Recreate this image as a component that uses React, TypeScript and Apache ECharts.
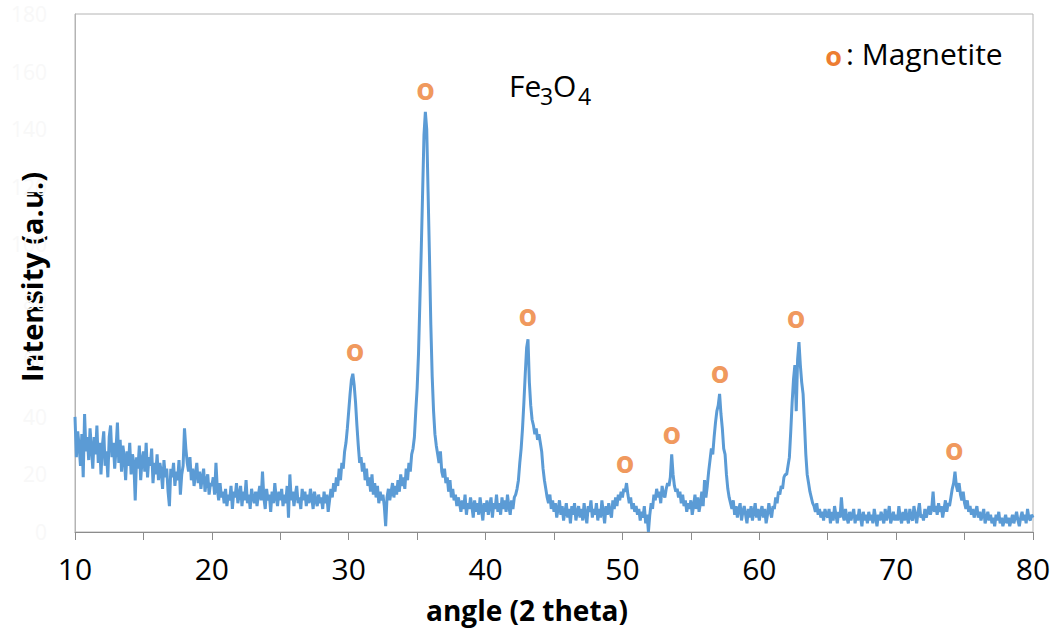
import React, { useEffect, useRef } from "react";
import * as echarts from "echarts";

// XRD pattern of Fe3O4, intensity (a.u.) sampled every 0.1 degree (2 theta)
const angleStart = 10;
const angleStep = 0.1;

const intensity10to20 = [
  40, 26, 35, 30, 23, 34, 19, 41, 28, 33,
  25, 36, 29, 22, 33, 27, 37, 24, 31, 20,
  30, 35, 23, 28, 19, 33, 37, 26, 31, 22,
  29, 38, 24, 32, 21, 30, 26, 18, 28, 23,
  31, 20, 27, 24, 11, 26, 22, 30, 18, 25,
  28, 21, 31, 19, 26, 23, 29, 17, 24, 20,
  27, 18, 24, 21, 15, 25, 19, 22, 14, 9,
  22, 19, 24, 16, 21, 18, 25, 13, 20, 23,
  36, 29, 24, 21, 26, 18, 22, 16, 20, 24,
  17, 21, 15, 19, 22, 14, 18, 20, 13, 17,
];
const intensity20to30 = [
  16, 19, 13, 24, 15, 11, 17, 12, 14, 10,
  15, 9, 13, 11, 16, 8, 14, 12, 17, 10,
  13, 16, 9, 14, 11, 18, 10, 13, 8, 15,
  12, 10, 14, 9, 13, 16, 11, 21, 12, 8,
  15, 11, 13, 7, 14, 10, 17, 12, 9, 14,
  11, 15, 9, 13, 10, 16, 5, 20, 11, 14,
  9, 13, 16, 10, 12, 8, 15, 11, 14, 9,
  13, 10, 15, 12, 8, 14, 11, 9, 13, 10,
  12, 8, 14, 10, 13, 7, 11, 15, 12, 17,
  14, 19, 16, 22, 18, 24, 22, 28, 31, 36,
];
const intensity30to40 = [
  42, 48, 53, 55, 51, 45, 37, 30, 24, 26,
  21, 24, 18, 22, 16, 19, 14, 20, 13, 17,
  12, 16, 10, 14, 11, 13, 9, 2, 12, 15,
  11, 14, 17, 12, 16, 13, 18, 14, 20, 16,
  19, 15, 22, 18, 24, 21, 27, 29, 33, 42,
  50, 62, 80, 98, 118, 138, 146, 140, 118, 96,
  72, 54, 42, 34, 30, 27, 24, 28, 21, 19,
  22, 17, 19, 14, 18, 12, 15, 11, 13, 9,
  12, 10, 7, 11, 8, 13, 6, 10, 8, 12,
  9, 5, 11, 7, 10, 6, 12, 8, 4, 10,
];
const intensity40to50 = [
  7, 11, 6, 9, 12, 5, 10, 8, 13, 7,
  10, 6, 12, 8, 11, 7, 13, 9, 6, 11,
  8, 12, 13, 15, 18, 24, 29, 36, 45, 55,
  64, 67, 52, 44, 39, 37, 34, 36, 32, 34,
  31, 28, 22, 18, 15, 12, 10, 13, 8, 11,
  7, 10, 5, 8, 11, 6, 9, 4, 7, 10,
  5, 8, 3, 9, 6, 10, 4, 7, 9, 5,
  8, 4, 10, 6, 3, 9, 7, 11, 5, 8,
  6, 10, 4, 8, 5, 11, 7, 3, 9, 6,
  10, 7, 5, 11, 8, 12, 9, 13, 11, 14,
];
const intensity50to60 = [
  12, 15, 14, 17, 13, 10, 12, 8, 10, 7,
  9, 6, 8, 4, 7, 5, 9, 3, 6, 0,
  6, 10, 8, 13, 11, 15, 12, 14, 10, 16,
  13, 12, 15, 17, 16, 19, 27, 20, 16, 14,
  15, 12, 14, 10, 13, 9, 11, 7, 10, 8,
  11, 6, 9, 13, 8, 12, 7, 10, 14, 9,
  18, 12, 16, 21, 25, 29, 27, 33, 38, 42,
  44, 48, 41, 36, 29, 27, 20, 15, 12, 10,
  8, 11, 6, 9, 5, 8, 10, 4, 7, 9,
  6, 3, 8, 5, 9, 4, 7, 10, 5, 8,
];
const intensity60to70 = [
  4, 7, 9, 5, 8, 3, 6, 10, 7, 5,
  9, 8, 12, 10, 14, 13, 16, 15, 19, 20,
  20, 23, 26, 35, 45, 53, 58, 42, 60, 66,
  58, 52, 48, 38, 27, 20, 17, 14, 12, 10,
  9, 7, 10, 6, 8, 5, 7, 4, 8, 6,
  5, 8, 3, 7, 4, 9, 6, 3, 7, 5,
  12, 6, 4, 8, 5, 3, 7, 4, 6, 8,
  3, 6, 4, 8, 5, 2, 7, 4, 6, 3,
  7, 4, 6, 3, 8, 5, 2, 6, 4, 7,
  5, 3, 8, 4, 6, 9, 3, 5, 7, 4,
];
const intensity70to80 = [
  6, 4, 9, 5, 3, 7, 4, 8, 5, 3,
  8, 5, 4, 9, 6, 3, 7, 10, 5, 6,
  4, 8, 5, 7, 9, 6, 8, 14, 7, 9,
  6, 10, 7, 9, 5, 8, 11, 7, 10, 9,
  12, 15, 17, 21, 16, 14, 17, 13, 11, 14,
  10, 8, 11, 7, 9, 6, 8, 5, 7, 9,
  5, 7, 4, 6, 8, 3, 5, 7, 4, 6,
  3, 5, 2, 6, 4, 7, 3, 5, 2, 4,
  6, 3, 5, 2, 4, 6, 3, 5, 7, 4,
  2, 5, 7, 4, 6, 3, 8, 5, 4, 6,
  5,
];

// Magnetite peak markers ("o")
const peakAngles = [30.46, 35.62, 43.08, 50.19, 53.6, 57.13, 62.68, 74.25];
const peakMarkHeights = [62.5, 152.9, 74.7, 23.3, 33.7, 54.9, 73.7, 27.8];

const xMin = 10;
const xMax = 80;
const yMin = 0;
const yMax = 180;
const yInterval = 20;
const xTickInterval = 5;

const FONT = "'Open Sans', 'Noto Sans', sans-serif";
const LINE_COLOR = "#5B9BD5";
const MARK_COLOR = "#ED7D31";

export default function App() {
  const ref = useRef<HTMLDivElement>(null);

  useEffect(() => {
    if (!ref.current) return;
    const chart = echarts.init(ref.current, undefined, { renderer: "svg" });

    const intensity = [
      ...intensity10to20,
      ...intensity20to30,
      ...intensity30to40,
      ...intensity40to50,
      ...intensity50to60,
      ...intensity60to70,
      ...intensity70to80,
    ];
    const lineData = intensity.map((v, i) => [
      Math.round((angleStart + i * angleStep) * 10) / 10,
      v,
    ]);
    const markData = peakAngles.map((a, i) => [a, peakMarkHeights[i]]);

    chart.setOption({
      animation: false,
      backgroundColor: "#ffffff",
      grid: {
        left: 75,
        right: 21,
        top: 14,
        bottom: 99,
        show: true,
        borderColor: "#b4b4b4",
        borderWidth: 1,
        containLabel: false,
      },
      xAxis: {
        type: "value",
        min: xMin,
        max: xMax,
        interval: xTickInterval,
        axisLine: { show: true, lineStyle: { color: "#8c8c8c", width: 1 } },
        axisTick: { show: true, length: 8, lineStyle: { color: "#8c8c8c" } },
        splitLine: { show: false },
        axisLabel: {
          color: "#000000",
          fontSize: 30,
          fontFamily: FONT,
          margin: 21,
          formatter: (v: number) => (v % 10 === 0 ? String(v) : ""),
        },
      },
      yAxis: {
        type: "value",
        min: yMin,
        max: yMax,
        interval: yInterval,
        axisLine: { show: true, lineStyle: { color: "#b4b4b4", width: 1 } },
        axisTick: { show: false },
        splitLine: { show: false },
        axisLabel: {
          color: "#f8f8f8",
          fontSize: 21,
          fontFamily: FONT,
          margin: 28,
        },
      },
      series: [
        {
          type: "line",
          data: lineData,
          showSymbol: false,
          symbol: "none",
          lineStyle: { color: LINE_COLOR, width: 3 },
          z: 2,
        },
        {
          type: "scatter",
          data: markData,
          symbolSize: 1,
          itemStyle: { color: "rgba(0,0,0,0)" },
          label: {
            show: true,
            position: "inside",
            formatter: "o",
            color: MARK_COLOR,
            fontSize: 30,
            fontWeight: "bold",
            fontFamily: FONT,
            offset: [0, -3],
          },
          z: 3,
        },
      ],
      graphic: [
        {
          type: "text",
          x: 527,
          y: 610,
          style: {
            text: "angle (2 theta)",
            fill: "#000",
            font: `bold 28px ${FONT}`,
            textAlign: "center",
            textVerticalAlign: "middle",
          },
        },
        {
          type: "text",
          x: 31,
          y: 277,
          rotation: Math.PI / 2,
          style: {
            text: "Intensity (a.u.)",
            fill: "#000",
            font: `bold 29px ${FONT}`,
            textAlign: "center",
            textVerticalAlign: "middle",
          },
        },
        {
          type: "text",
          x: 833.5,
          y: 55,
          style: {
            text: "o",
            fill: MARK_COLOR,
            font: `bold 27px ${FONT}`,
            textAlign: "center",
            textVerticalAlign: "middle",
          },
        },
        {
          type: "text",
          x: 846,
          y: 53.5,
          style: {
            text: ": Magnetite",
            fill: "#000",
            font: `30px ${FONT}`,
            textAlign: "left",
            textVerticalAlign: "middle",
          },
        },
        {
          type: "text",
          x: 509,
          y: 85,
          style: {
            text: "Fe",
            fill: "#000",
            font: `30px ${FONT}`,
            textAlign: "left",
            textVerticalAlign: "middle",
          },
        },
        {
          type: "text",
          x: 540,
          y: 96,
          style: {
            text: "3",
            fill: "#000",
            font: `23px ${FONT}`,
            textAlign: "left",
            textVerticalAlign: "middle",
          },
        },
        {
          type: "text",
          x: 553,
          y: 85,
          style: {
            text: "O",
            fill: "#000",
            font: `30px ${FONT}`,
            textAlign: "left",
            textVerticalAlign: "middle",
          },
        },
        {
          type: "text",
          x: 578,
          y: 96,
          style: {
            text: "4",
            fill: "#000",
            font: `23px ${FONT}`,
            textAlign: "left",
            textVerticalAlign: "middle",
          },
        },
      ],
    });

    return () => chart.dispose();
  }, []);

  return (
    <div
      ref={ref}
      style={{
        position: "fixed",
        left: 0,
        top: 0,
        width: 1054,
        height: 631,
        background: "#ffffff",
      }}
    />
  );
}
